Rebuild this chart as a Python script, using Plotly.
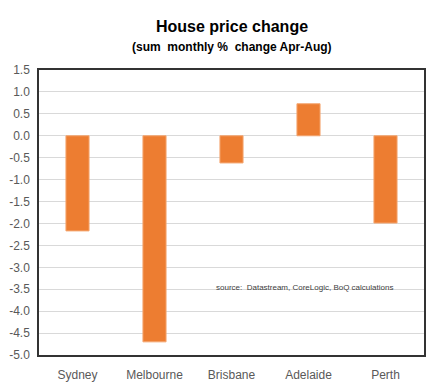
import plotly.graph_objects as go

cities = ["Sydney", "Melbourne", "Brisbane", "Adelaide", "Perth"]
changes = [-2.17, -4.70, -0.62, 0.73, -1.99]
y_ticks = [1.5, 1.0, 0.5, 0.0, -0.5, -1.0, -1.5, -2.0, -2.5, -3.0, -3.5, -4.0, -4.5, -5.0]

FONT = "Liberation Sans, Arial, sans-serif"

fig = go.Figure()
fig.add_trace(go.Bar(
    x=cities, y=changes,
    marker=dict(color="#ED7D31", line=dict(color="#F4A670", width=1)),
    width=0.3,
))

fig.update_layout(
    width=439, height=392,
    margin=dict(l=39, r=15, t=70, b=37, autoexpand=False),
    paper_bgcolor="white", plot_bgcolor="white",
    showlegend=False,
    font=dict(family=FONT, color="#595959", size=12),
    xaxis=dict(
        automargin=False,
        showline=True, linecolor="#333333", linewidth=1.5, mirror=True,
        ticks="", tickfont=dict(size=12, color="#595959"),
        ticklabelstandoff=8,
        showgrid=False,
    ),
    yaxis=dict(
        automargin=False,
        range=[-5.0, 1.5], tickvals=y_ticks,
        ticktext=[f"{v:.1f}" for v in y_ticks],
        showline=True, linecolor="#333333", linewidth=1.5, mirror=True,
        showgrid=True, gridcolor="#D9D9D9", gridwidth=1,
        zeroline=True, zerolinecolor="#D9D9D9", zerolinewidth=1,
        ticks="", tickfont=dict(size=12, color="#595959"),
        ticklabelstandoff=5,
    ),
    annotations=[
        dict(x=0.5, y=1.151, xref="paper", yref="paper",
             text="<b>House price change</b>", showarrow=False,
             font=dict(family=FONT, size=16, color="black"),
             xanchor="center", yanchor="middle"),
        dict(x=0.5, y=1.081, xref="paper", yref="paper",
             text="<b>(sum  monthly %  change Apr-Aug)</b>", showarrow=False,
             font=dict(family=FONT, size=12, color="black"),
             xanchor="center", yanchor="middle"),
        dict(x=0.69, y=-3.45, xref="paper", yref="y",
             text="source:  Datastream, CoreLogic, BoQ calculations",
             showarrow=False, font=dict(family=FONT, size=8, color="#404040"),
             xanchor="center", yanchor="middle"),
    ],
)

fig.write_html("out.html", config={"displayModeBar": False},
               post_script="document.body.style.margin='0';")
